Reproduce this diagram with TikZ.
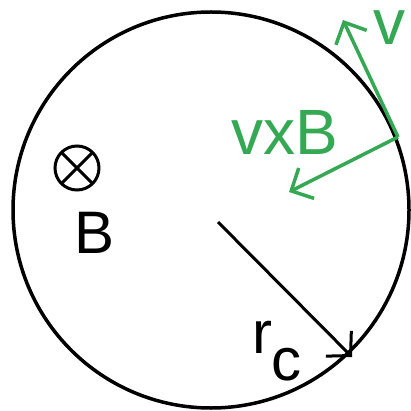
\documentclass[tikz,border=0pt]{standalone}
\usepackage{fontspec}
\setmainfont{Liberation Sans}
\usetikzlibrary{arrows.meta}
\definecolor{vecgreen}{RGB}{52,168,83}
\tikzset{
  orbit/.style={circle,draw,line width=3.5pt,inner sep=0pt},
  vec/.style={-{Straight Barb[length=17pt,width=34pt]},line width=3.5pt,draw=vecgreen},
  rvec/.style={-{Straight Barb[length=17pt,width=36pt]},line width=3pt},
  lbl/.style={font=\fontsize{60}{60}\selectfont,inner sep=0pt,anchor=base},
  glbl/.style={lbl,font=\fontsize{64}{64}\selectfont,text=vecgreen},
  fieldsym/.style={circle,draw,line width=3pt,minimum size=44pt,inner sep=0pt,outer sep=0pt}
}
\begin{document}
\begin{tikzpicture}[x=1pt,y=-1pt]
  \useasboundingbox (0,0) rectangle (410,411);
  \node[orbit,minimum size=396pt] (orbit) at (211,210) {};

  % field into the page
  \node[fieldsym] (bsym) at (77,168) {};
  \draw[line width=3pt] (bsym.45) -- (bsym.225) (bsym.135) -- (bsym.315);
  \node[lbl] (blab) at (95,253) {B};

  % velocity and force at the particle
  \coordinate (pos) at (398,137);
  \coordinate (vtip) at (343,20);
  \coordinate (ftip) at (289,192);
  \draw[vec] (pos) -- (vtip);
  \draw[vec] (pos) -- (ftip);
  \node[glbl] (vlab) at (389,45) {v};
  \node[glbl] (flab) at (285,155) {vxB};

  % radius
  \coordinate (ctr) at (218,222);
  \coordinate (rim) at (352,357);
  \draw[rvec] (ctr) -- (rim);
  \node[lbl] (rlab) at (277,353) {r\raisebox{-27pt}{c}};
\end{tikzpicture}
\end{document}
